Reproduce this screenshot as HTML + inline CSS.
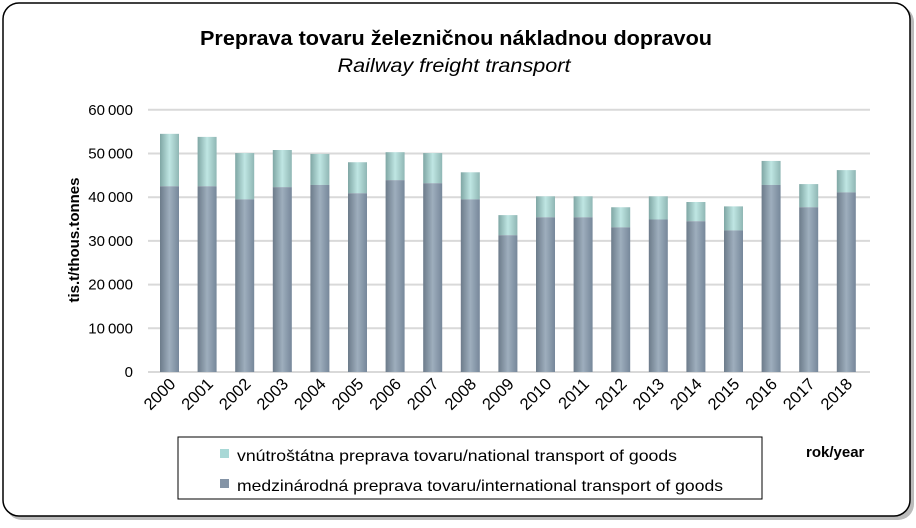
<!DOCTYPE html>
<html><head><meta charset="utf-8"><style>
body{margin:0;background:#fff;width:916px;height:523px;overflow:hidden;font-family:"Liberation Sans",sans-serif}
</style></head><body>
<svg id="s" width="916" height="523" xmlns="http://www.w3.org/2000/svg" font-family="Liberation Sans, sans-serif">
<defs>
<linearGradient id="gn" x1="0" x2="1"><stop offset="0" stop-color="#7fa6a4"/><stop offset="0.5" stop-color="#bfe6e3"/><stop offset="1" stop-color="#8fb6b4"/></linearGradient>
<linearGradient id="gi" x1="0" x2="1"><stop offset="0" stop-color="#6c7b8a"/><stop offset="0.5" stop-color="#9eaebd"/><stop offset="1" stop-color="#76879a"/></linearGradient>
</defs>
<rect x="6" y="6" width="908" height="514" rx="16" fill="#bbb"/>
<rect x="3" y="3" width="907" height="513" rx="16" fill="#fff" stroke="#000" stroke-width="1.5"/>
<text x="456" y="45" text-anchor="middle" font-size="20" font-weight="bold" textLength="512" lengthAdjust="spacingAndGlyphs">Preprava tovaru železničnou nákladnou dopravou</text>
<text x="454" y="72" text-anchor="middle" font-size="19" font-style="italic" textLength="233" lengthAdjust="spacingAndGlyphs">Railway freight transport</text>
<g id="g"></g>
<text transform="translate(79,240) rotate(-90)" text-anchor="middle" font-size="15" font-weight="bold">tis.t/thous.tonnes</text>
<text x="806" y="457" font-size="15" font-weight="bold">rok/year</text>
<rect x="178" y="437" width="584" height="62" fill="#fff" stroke="#000" stroke-width="1"/>
<rect x="220" y="449" width="9" height="9" fill="#a8d8d6"/>
<text x="237" y="461" font-size="16" textLength="440" lengthAdjust="spacingAndGlyphs">vnútroštátna preprava tovaru/national transport of goods</text>
<rect x="220" y="479" width="9" height="9" fill="#8494a6"/>
<text x="237" y="491" font-size="16" textLength="486" lengthAdjust="spacingAndGlyphs">medzinárodná preprava tovaru/international transport of goods</text>
</svg>
<script>
var d=[[54.5,42.5],[53.8,42.5],[50.1,39.5],[50.8,42.3],[49.9,42.8],[48.0,40.9],[50.3,43.9],[50.1,43.2],[45.7,39.5],[35.9,31.3],[40.2,35.4],[40.2,35.4],[37.7,33.1],[40.2,34.9],[38.9,34.5],[37.9,32.4],[48.3,42.8],[43.0,37.7],[46.2,41.1]];
var y0=372,k=4.37,h='';
for(var i=0;i<=6;i++){var y=y0-i*10*k;h+='<line x1="148" x2="870" y1="'+y+'" y2="'+y+'" stroke="#d9d9d9" stroke-width="2"/>';
h+='<text x="133" y="'+(y+5)+'" text-anchor="end" font-size="15">'+(i==0?'0':(i*10)+'\u2009000')+'</text>';}
for(var j=0;j<19;j++){var c=169.5+j*37.6,t=y0-d[j][0]*k,m=y0-d[j][1]*k;
h+='<rect x="'+(c-9.5)+'" y="'+t+'" width="19" height="'+(m-t)+'" fill="url(#gn)"/>';
h+='<rect x="'+(c-9.5)+'" y="'+m+'" width="19" height="'+(y0-m)+'" fill="url(#gi)"/>';
h+='<text transform="translate('+(c+7)+',385) rotate(-45)" text-anchor="end" font-size="16.5">'+(2000+j)+'</text>';}
document.getElementById('g').innerHTML=h;
</script>
</body></html>
